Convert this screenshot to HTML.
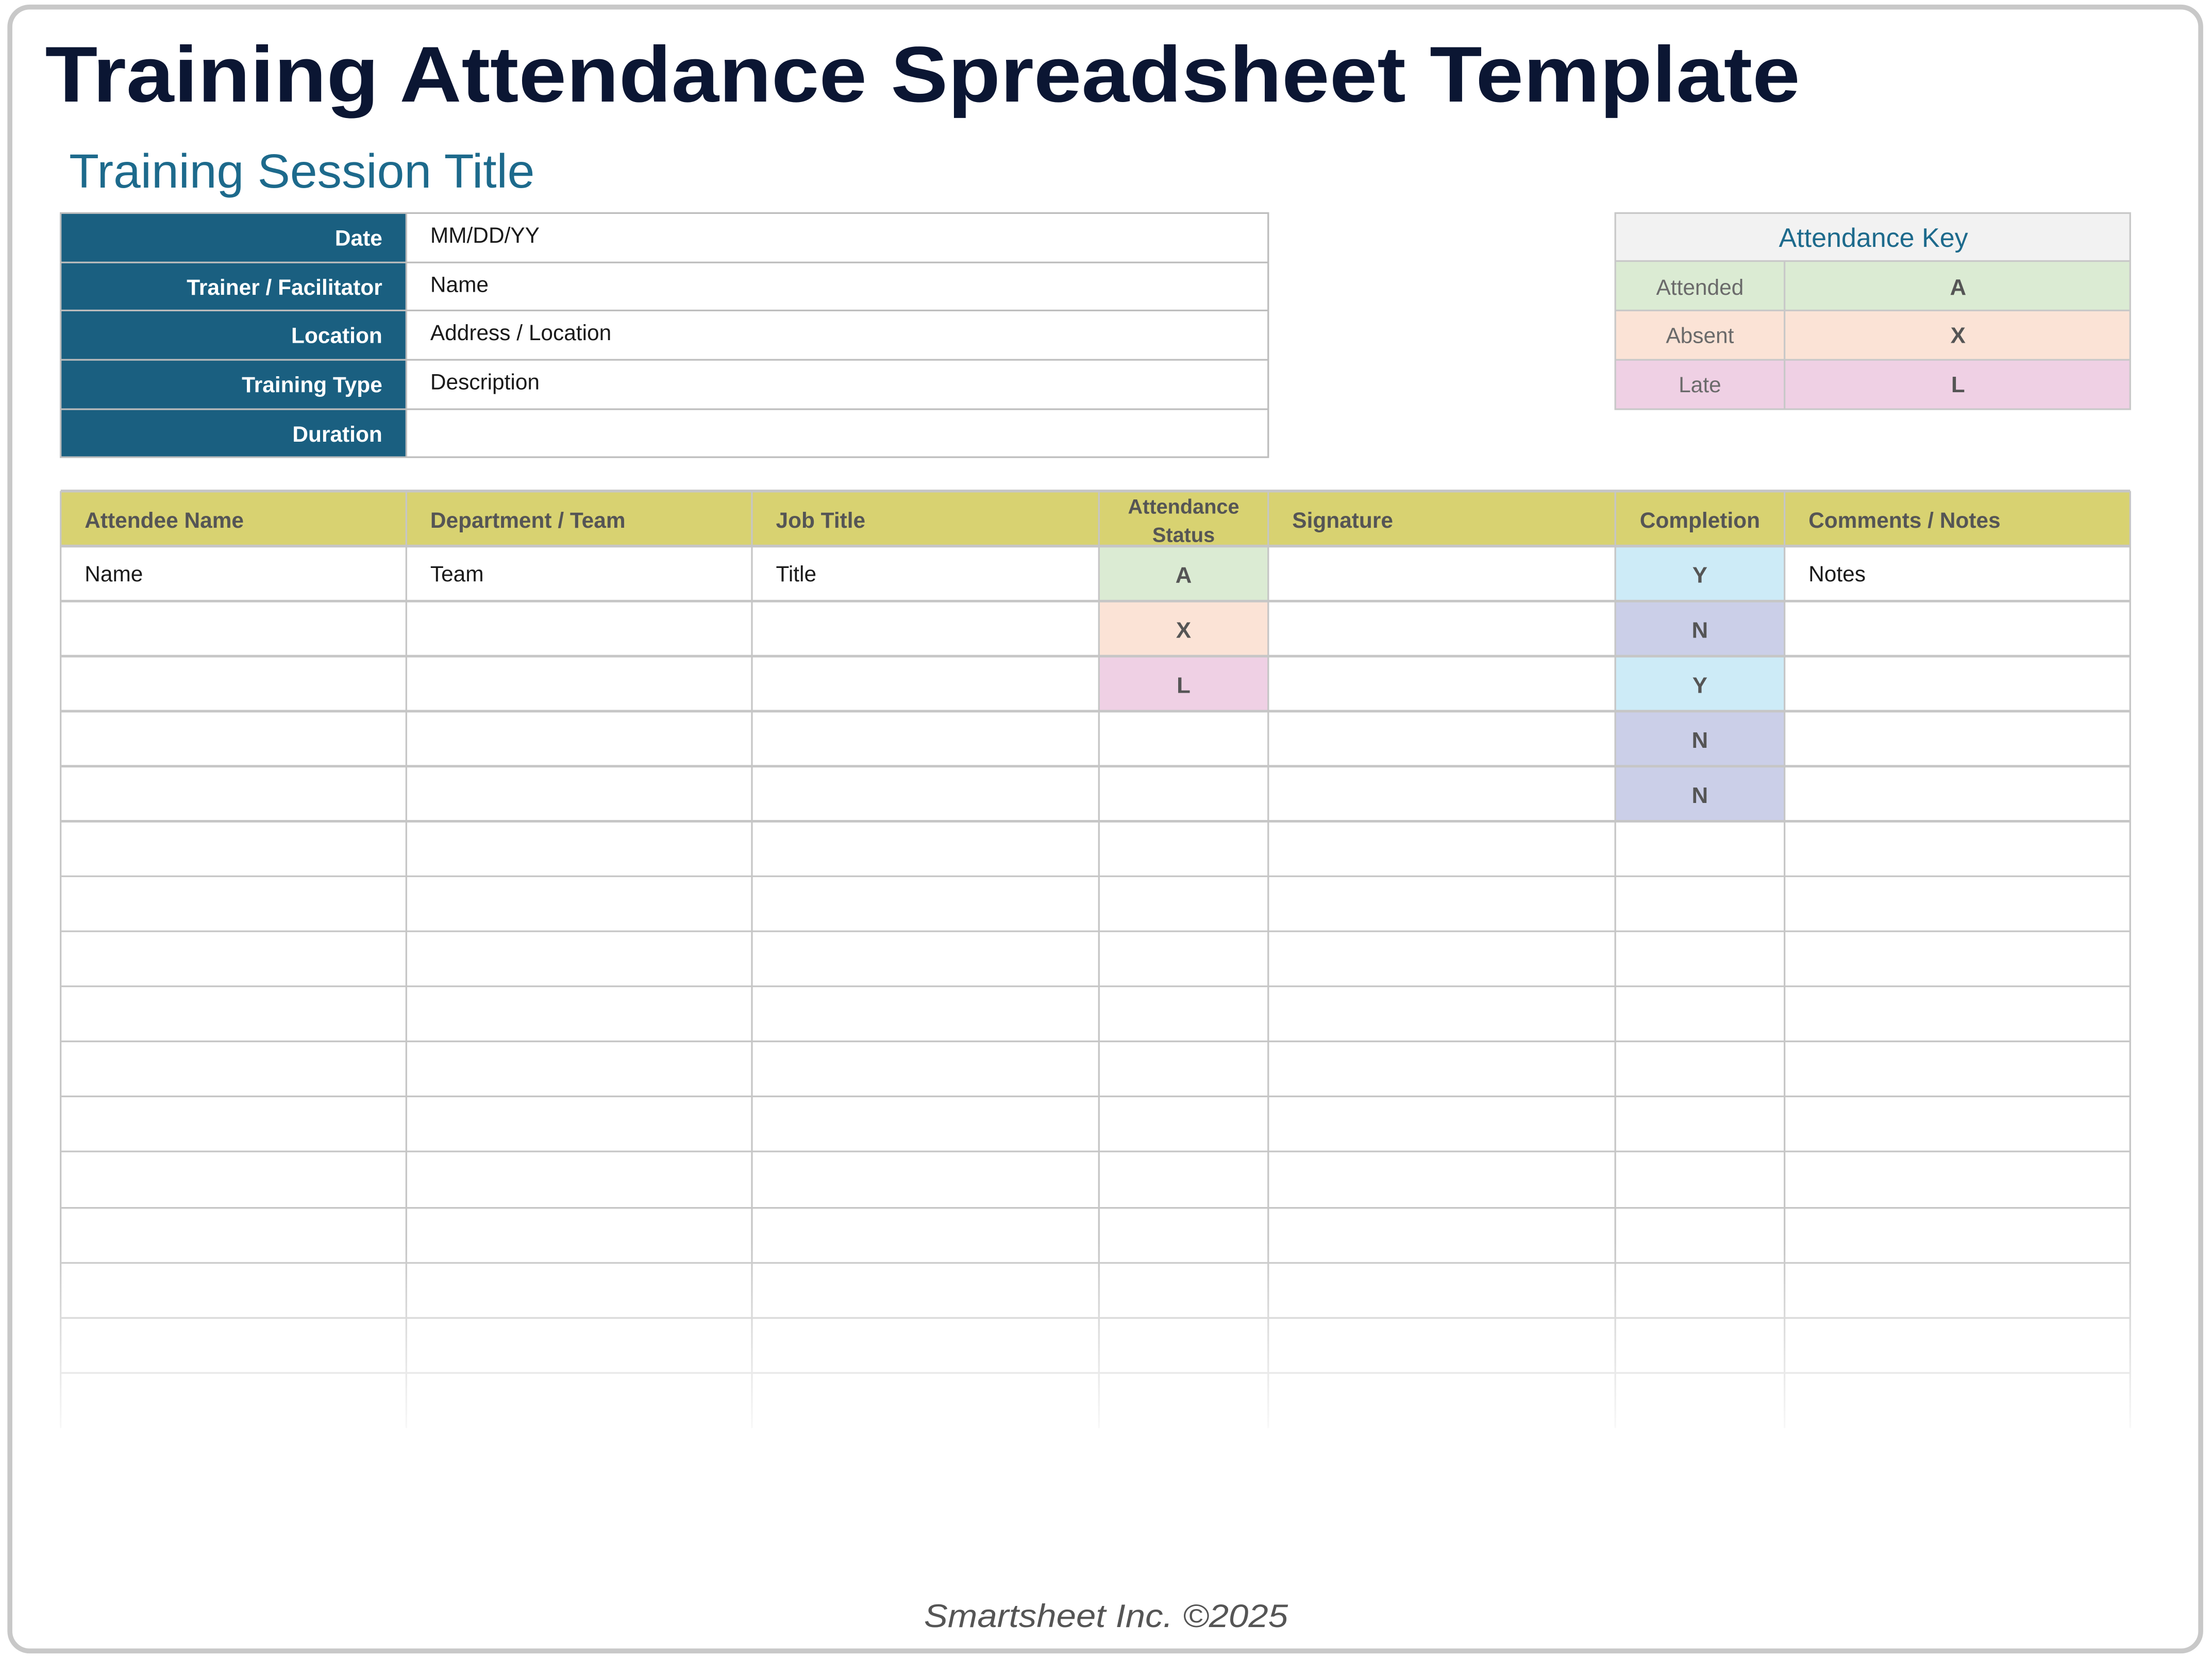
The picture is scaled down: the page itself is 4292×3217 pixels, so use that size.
<!DOCTYPE html>
<html><head><meta charset="utf-8"><style>
html,body{margin:0;padding:0;background:#fff;}
svg{display:block;}
text{font-family:"Liberation Sans",sans-serif;}
</style></head><body>
<svg width="4292" height="3217" viewBox="0 0 1568 1175" preserveAspectRatio="none" xmlns="http://www.w3.org/2000/svg">
<rect x="0" y="0" width="1568" height="1175" fill="#fff"/>
<rect x="7" y="5" width="1553" height="1165" rx="14" fill="#fff" stroke="#c8c8c8" stroke-width="3.5"/>
<text x="32" y="72" font-size="56" font-weight="bold" fill="#0b1633" textLength="1244" lengthAdjust="spacingAndGlyphs">Training Attendance Spreadsheet Template</text>
<text x="49" y="133" font-size="34" fill="#1d6a8c" textLength="330" lengthAdjust="spacingAndGlyphs">Training Session Title</text>

<!-- info table -->
<g>
<rect x="43" y="151" width="245" height="173" fill="#1a5f80"/>
<g stroke="#bdbdbd" stroke-width="1.2" fill="none">
<rect x="43" y="151" width="856" height="173"/>
<line x1="288" y1="151" x2="288" y2="324"/>
<line x1="43" y1="186" x2="899" y2="186"/>
<line x1="43" y1="220" x2="899" y2="220"/>
<line x1="43" y1="255" x2="899" y2="255"/>
<line x1="43" y1="290" x2="899" y2="290"/>
</g>
<g font-size="15.5" font-weight="bold" fill="#fff" text-anchor="end">
<text x="271" y="174">Date</text>
<text x="271" y="209">Trainer / Facilitator</text>
<text x="271" y="243">Location</text>
<text x="271" y="278">Training Type</text>
<text x="271" y="313">Duration</text>
</g>
<g font-size="15.5" fill="#1a1a1a">
<text x="305" y="172">MM/DD/YY</text>
<text x="305" y="207">Name</text>
<text x="305" y="241">Address / Location</text>
<text x="305" y="276">Description</text>
</g>
</g>

<!-- key -->
<g>
<rect x="1145" y="151" width="365" height="34" fill="#f2f2f2"/>
<rect x="1145" y="185" width="365" height="35" fill="#dbebd3"/>
<rect x="1145" y="220" width="365" height="35" fill="#fbe3d6"/>
<rect x="1145" y="255" width="365" height="35" fill="#efd0e4"/>
<g stroke="#c8c8c8" stroke-width="1.2" fill="none">
<rect x="1145" y="151" width="365" height="139"/>
<line x1="1145" y1="185" x2="1510" y2="185"/>
<line x1="1145" y1="220" x2="1510" y2="220"/>
<line x1="1145" y1="255" x2="1510" y2="255"/>
<line x1="1265" y1="185" x2="1265" y2="290"/>
</g>
<text x="1328" y="175" font-size="19" fill="#1d6a8c" text-anchor="middle">Attendance Key</text>
<g font-size="15.5" fill="#6a6a6a" text-anchor="middle">
<text x="1205" y="209">Attended</text>
<text x="1205" y="243">Absent</text>
<text x="1205" y="278">Late</text>
</g>
<g font-size="16" font-weight="bold" fill="#555" text-anchor="middle">
<text x="1388" y="209">A</text>
<text x="1388" y="243">X</text>
<text x="1388" y="278">L</text>
</g>
</g>

<!-- main table -->
<defs>
<linearGradient id="fade" x1="0" y1="0" x2="0" y2="1">
<stop offset="0" stop-color="#fff" stop-opacity="0"/>
<stop offset="1" stop-color="#fff" stop-opacity="0.9"/>
</linearGradient>
</defs>
<rect x="43" y="348" width="1467" height="39" fill="#d8d271"/>
<rect x="779" y="387" width="120" height="39" fill="#dbebd3"/>
<rect x="779" y="426" width="120" height="39" fill="#fbe3d6"/>
<rect x="779" y="465" width="120" height="39" fill="#efd0e4"/>
<rect x="1145" y="387" width="120" height="39" fill="#cdebf7"/>
<rect x="1145" y="426" width="120" height="39" fill="#cbcfe8"/>
<rect x="1145" y="465" width="120" height="39" fill="#cdebf7"/>
<rect x="1145" y="504" width="120" height="39" fill="#cbcfe8"/>
<rect x="1145" y="543" width="120" height="39" fill="#cbcfe8"/>
<g stroke="#c6c6c6" stroke-width="1.2">
<line x1="43" y1="348" x2="1510" y2="348" stroke-width="2"/>
<line x1="43" y1="387" x2="1510" y2="387" stroke-width="2"/>
<line x1="43" y1="426" x2="1510" y2="426" stroke-width="1.8"/>
<line x1="43" y1="465" x2="1510" y2="465" stroke-width="1.8"/>
<line x1="43" y1="504" x2="1510" y2="504" stroke-width="1.8"/>
<line x1="43" y1="543" x2="1510" y2="543" stroke-width="1.8"/>
<line x1="43" y1="582" x2="1510" y2="582" stroke-width="1.8"/>
<line x1="43" y1="621" x2="1510" y2="621"/>
<line x1="43" y1="660" x2="1510" y2="660"/>
<line x1="43" y1="699" x2="1510" y2="699"/>
<line x1="43" y1="738" x2="1510" y2="738"/>
<line x1="43" y1="777" x2="1510" y2="777"/>
<line x1="43" y1="816" x2="1510" y2="816"/>
<line x1="43" y1="856" x2="1510" y2="856"/>
<line x1="43" y1="895" x2="1510" y2="895"/>
<line x1="43" y1="934" x2="1510" y2="934"/>
<line x1="43" y1="973" x2="1510" y2="973"/>
<line x1="43" y1="348" x2="43" y2="1012"/>
<line x1="288" y1="348" x2="288" y2="1012"/>
<line x1="533" y1="348" x2="533" y2="1012"/>
<line x1="779" y1="348" x2="779" y2="1012"/>
<line x1="899" y1="348" x2="899" y2="1012"/>
<line x1="1145" y1="348" x2="1145" y2="1012"/>
<line x1="1265" y1="348" x2="1265" y2="1012"/>
<line x1="1510" y1="348" x2="1510" y2="1012"/>
</g>
<rect x="40" y="880" width="1474" height="135" fill="url(#fade)"/>
<g font-size="15.5" font-weight="bold" fill="#555">
<text x="60" y="374">Attendee Name</text>
<text x="305" y="374">Department / Team</text>
<text x="550" y="374">Job Title</text>
<text x="916" y="374">Signature</text>
<text x="1205" y="374" text-anchor="middle">Completion</text>
<text x="1282" y="374">Comments / Notes</text>
<text x="839" y="364" text-anchor="middle" font-size="14.5">Attendance</text>
<text x="839" y="384" text-anchor="middle" font-size="14.5">Status</text>
</g>
<g font-size="15.5" fill="#1a1a1a">
<text x="60" y="412">Name</text>
<text x="305" y="412">Team</text>
<text x="550" y="412">Title</text>
<text x="1282" y="412">Notes</text>
</g>
<g font-size="16" font-weight="bold" fill="#555" text-anchor="middle">
<text x="839" y="413">A</text>
<text x="839" y="452">X</text>
<text x="839" y="491">L</text>
<text x="1205" y="413">Y</text>
<text x="1205" y="452">N</text>
<text x="1205" y="491">Y</text>
<text x="1205" y="530">N</text>
<text x="1205" y="569">N</text>
</g>

<text x="784" y="1153" font-size="23" font-style="italic" fill="#555" text-anchor="middle" textLength="258" lengthAdjust="spacingAndGlyphs">Smartsheet Inc. ©2025</text>
</svg>
</body></html>
